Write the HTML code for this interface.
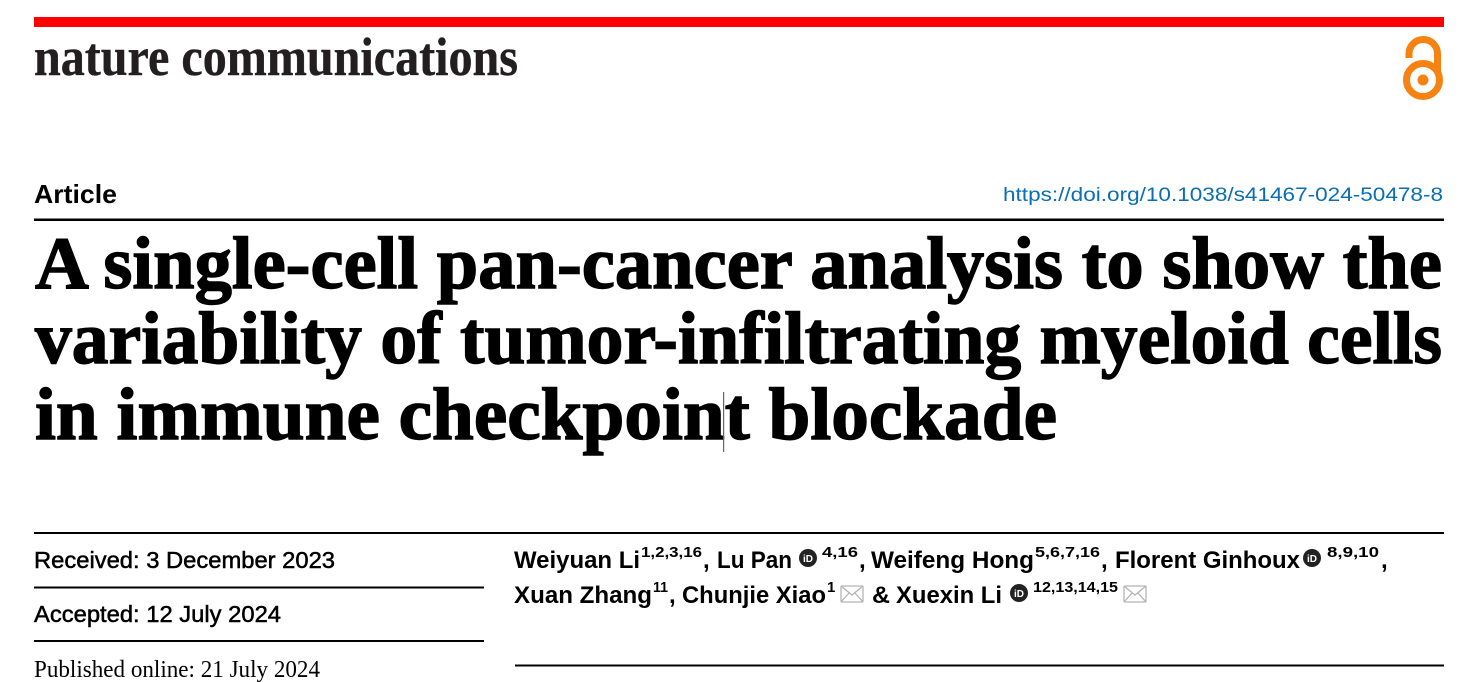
<!DOCTYPE html>
<html>
<head>
<meta charset="utf-8">
<style>
  html, body { margin:0; padding:0; background:#fff; }
  body { width:1480px; height:682px; overflow:hidden; }
  svg { display:block; }
  .serif { font-family:"Liberation Serif", serif; }
  .sans { font-family:"Liberation Sans", sans-serif; }
</style>
</head>
<body>
<svg width="1480" height="682" viewBox="0 0 1480 682" xmlns="http://www.w3.org/2000/svg">
  <!-- red top bar -->
  <rect x="34" y="17" width="1410" height="10" fill="#ff0000"/>

  <!-- journal name -->
  <text class="serif" x="34" y="75" font-size="54" font-weight="bold" fill="#231f20" stroke="#231f20" stroke-width="0.4" textLength="484" lengthAdjust="spacingAndGlyphs">nature communications</text>

  <!-- open access icon -->
  <g fill="none" stroke="#f68212" stroke-width="7">
    <path d="M1409,58 L1409,53.75 A14.25,14.25 0 0 1 1437.5,53.75 L1437.5,72"/>
    <circle cx="1423" cy="80" r="16.5"/>
  </g>
  <circle cx="1423" cy="80" r="5.5" fill="#f68212"/>

  <!-- Article + DOI -->
  <text class="sans" x="34" y="203" font-size="26" font-weight="bold" fill="#000" textLength="83" lengthAdjust="spacingAndGlyphs">Article</text>
  <text class="sans" x="1003" y="201" font-size="19.5" fill="#0a6eb4" textLength="440" lengthAdjust="spacingAndGlyphs">https://doi.org/10.1038/s41467-024-50478-8</text>
  <rect x="34" y="218.5" width="1410" height="2.5" fill="#000"/>

  <!-- title -->
  <g class="serif" font-size="74" font-weight="bold" fill="#000" stroke="#000" stroke-width="1.4">
    <text x="35" y="288" textLength="1407" lengthAdjust="spacingAndGlyphs">A single-cell pan-cancer analysis to show the</text>
    <text x="35" y="363" textLength="1407" lengthAdjust="spacingAndGlyphs">variability of tumor-infiltrating myeloid cells</text>
    <text x="35" y="439" textLength="1022" lengthAdjust="spacingAndGlyphs">in immune checkpoint blockade</text>
  </g>
  <rect x="723" y="392" width="1.2" height="60" fill="#666"/>

  <!-- lines -->
  <rect x="34" y="532" width="1410" height="2" fill="#000"/>
  <rect x="34" y="586.5" width="450" height="2" fill="#000"/>
  <rect x="34" y="640" width="450" height="2" fill="#000"/>
  <rect x="515" y="664.5" width="929" height="2" fill="#000"/>

  <!-- left column dates -->
  <g class="sans" font-size="23" fill="#000" stroke="#000" stroke-width="0.5">
    <text x="34" y="568" textLength="301" lengthAdjust="spacingAndGlyphs">Received: 3 December 2023</text>
    <text x="34" y="622" textLength="247" lengthAdjust="spacingAndGlyphs">Accepted: 12 July 2024</text>
  </g>
  <text class="serif" x="34" y="677" font-size="24" fill="#000" textLength="286" lengthAdjust="spacingAndGlyphs">Published online: 21 July 2024</text>

  <!-- authors -->
  <g class="sans" font-weight="bold" fill="#000">
    <!-- line 1 -->
    <text x="514" y="568" font-size="24" textLength="126" lengthAdjust="spacingAndGlyphs">Weiyuan Li</text>
    <text x="641" y="557" font-size="15" textLength="61" lengthAdjust="spacingAndGlyphs">1,2,3,16</text>
    <text x="703" y="568" font-size="24">,</text>
    <text x="717" y="568" font-size="24" textLength="75" lengthAdjust="spacingAndGlyphs">Lu Pan</text>
    <text x="822" y="557" font-size="15" textLength="36" lengthAdjust="spacingAndGlyphs">4,16</text>
    <text x="859" y="568" font-size="24">,</text>
    <text x="871" y="568" font-size="24" textLength="163" lengthAdjust="spacingAndGlyphs">Weifeng Hong</text>
    <text x="1035" y="557" font-size="15" textLength="65" lengthAdjust="spacingAndGlyphs">5,6,7,16</text>
    <text x="1101" y="568" font-size="24">,</text>
    <text x="1115" y="568" font-size="24" textLength="185" lengthAdjust="spacingAndGlyphs">Florent Ginhoux</text>
    <text x="1327" y="557" font-size="15" textLength="52" lengthAdjust="spacingAndGlyphs">8,9,10</text>
    <text x="1381" y="568" font-size="24">,</text>
    <!-- line 2 -->
    <text x="514" y="603" font-size="24" textLength="138" lengthAdjust="spacingAndGlyphs">Xuan Zhang</text>
    <text x="653" y="592" font-size="15" textLength="15" lengthAdjust="spacingAndGlyphs">11</text>
    <text x="669" y="603" font-size="24">,</text>
    <text x="682" y="603" font-size="24" textLength="144" lengthAdjust="spacingAndGlyphs">Chunjie Xiao</text>
    <text x="827" y="592" font-size="15">1</text>
    <text x="872" y="603" font-size="24" textLength="18" lengthAdjust="spacingAndGlyphs">&amp;</text>
    <text x="896" y="603" font-size="24" textLength="106" lengthAdjust="spacingAndGlyphs">Xuexin Li</text>
    <text x="1033" y="592" font-size="15" textLength="85" lengthAdjust="spacingAndGlyphs">12,13,14,15</text>
  </g>

  <!-- ORCID icons -->
  <g>
    <circle cx="808" cy="558" r="9" fill="#222"/>
    <text class="sans" x="808" y="562" font-size="10" font-weight="bold" fill="#fff" text-anchor="middle">iD</text>
    <circle cx="1312" cy="558" r="9" fill="#222"/>
    <text class="sans" x="1312" y="562" font-size="10" font-weight="bold" fill="#fff" text-anchor="middle">iD</text>
    <circle cx="1019" cy="593" r="9" fill="#222"/>
    <text class="sans" x="1019" y="597" font-size="10" font-weight="bold" fill="#fff" text-anchor="middle">iD</text>
  </g>

  <!-- mail icons -->
  <g fill="none" stroke="#b5b5b5" stroke-width="1.3">
    <rect x="841" y="586" width="22" height="16" rx="1"/>
    <path d="M841,586 L852,595 L863,586 M841,602 L849,593 M863,602 L855,593"/>
    <rect x="1124" y="586" width="22" height="16" rx="1"/>
    <path d="M1124,586 L1135,595 L1146,586 M1124,602 L1132,593 M1146,602 L1138,593"/>
  </g>

  <!-- abstract first line (cut off) -->
  <text class="serif" x="515" y="700" font-size="24" fill="#000" textLength="929" lengthAdjust="spacingAndGlyphs">Myeloid cells are vital components of the tumor microenvironment and have</text>
</svg>
</body>
</html>
